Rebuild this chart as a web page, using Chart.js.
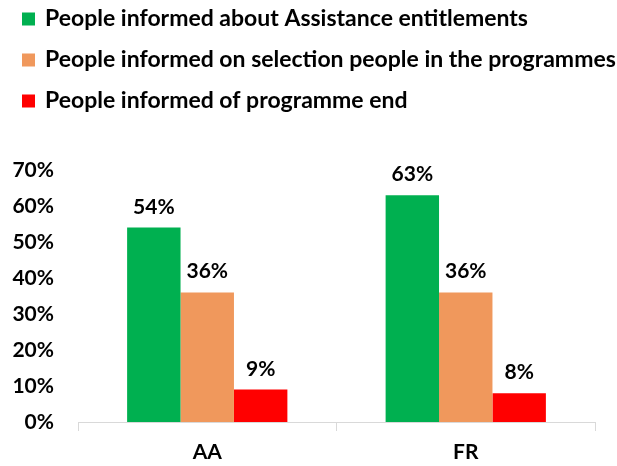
<!DOCTYPE html>
<html>
<head>
<meta charset="utf-8">
<script src="https://cdn.jsdelivr.net/npm/chart.js@4.4.1/dist/chart.umd.min.js"></script>
<style>
  html, body { margin: 0; padding: 0; background: #ffffff; }
  #wrap { width: 617px; height: 466px; }
</style>
</head>
<body>
<div id="wrap"><canvas id="chart" width="617" height="466"></canvas></div>
<script>
// Share of people informed, by programme (percent)
const categories = ['AA', 'FR'];
const seriesLabels = [
  'People informed about Assistance entitlements',
  'People informed on selection people in the programmes',
  'People informed of programme end'
];
const informedEntitlements = [54, 63];
const informedSelection = [36, 36];
const informedEnd = [9, 8];
const yTickValues = [0, 10, 20, 30, 40, 50, 60, 70];

const seriesColors = ['#00B050', '#F0985C', '#FF0000'];
const FONT = 'Lato, "Open Sans", sans-serif';

// Legend drawn as a stacked list in the top-left corner
const stackedLegend = {
  id: 'stackedLegend',
  afterDraw(chart) {
    const ctx = chart.ctx;
    ctx.save();
    ctx.font = 'bold 23px ' + FONT;
    ctx.textBaseline = 'alphabetic';
    ctx.textAlign = 'left';
    chart.data.datasets.forEach((ds, i) => {
      const top = 12.5 + i * 41;
      ctx.fillStyle = ds.backgroundColor;
      ctx.fillRect(22, top, 13, 13);
      ctx.fillStyle = '#000000';
      ctx.fillText(ds.label, 45, 26 + i * 41);
    });
    ctx.restore();
  }
};

// Value labels above each bar
const valueLabels = {
  id: 'valueLabels',
  afterDatasetsDraw(chart) {
    const ctx = chart.ctx;
    ctx.save();
    ctx.font = 'bold 21px ' + FONT;
    ctx.fillStyle = '#000000';
    ctx.textAlign = 'center';
    ctx.textBaseline = 'alphabetic';
    chart.data.datasets.forEach((ds, di) => {
      chart.getDatasetMeta(di).data.forEach((bar, i) => {
        ctx.fillText(ds.data[i] + '%', bar.x, bar.y - 14);
      });
    });
    ctx.restore();
  }
};

const seriesData = [informedEntitlements, informedSelection, informedEnd];

new Chart(document.getElementById('chart'), {
  type: 'bar',
  data: {
    labels: categories,
    datasets: seriesLabels.map((label, i) => ({
      label: label,
      data: seriesData[i],
      backgroundColor: seriesColors[i],
      borderWidth: 0,
      categoryPercentage: 0.62,
      barPercentage: 1.0
    }))
  },
  options: {
    responsive: false,
    animation: false,
    layout: { padding: { top: 170, left: 0, right: 22, bottom: 0 } },
    plugins: {
      legend: { display: false },
      tooltip: { enabled: false }
    },
    scales: {
      x: {
        grid: {
          display: true,
          drawOnChartArea: false,
          drawTicks: true,
          tickLength: 9,
          color: '#D9D9D9',
          offset: true
        },
        border: { display: true, color: '#D9D9D9', width: 1 },
        ticks: {
          color: '#000000',
          font: { family: FONT, weight: 'bold', size: 21 },
          padding: 9
        },
        afterFit(scale) { scale.height = 44; }
      },
      y: {
        min: 0,
        max: 70,
        afterBuildTicks(scale) {
          scale.ticks = yTickValues.map(v => ({ value: v }));
        },
        grid: { display: false, drawTicks: false },
        border: { display: false },
        ticks: {
          color: '#000000',
          font: { family: FONT, weight: 'bold', size: 21 },
          padding: 24,
          callback: v => v + '%'
        },
        afterFit(scale) { scale.width = 78; }
      }
    }
  },
  plugins: [stackedLegend, valueLabels]
});
</script>
</body>
</html>
